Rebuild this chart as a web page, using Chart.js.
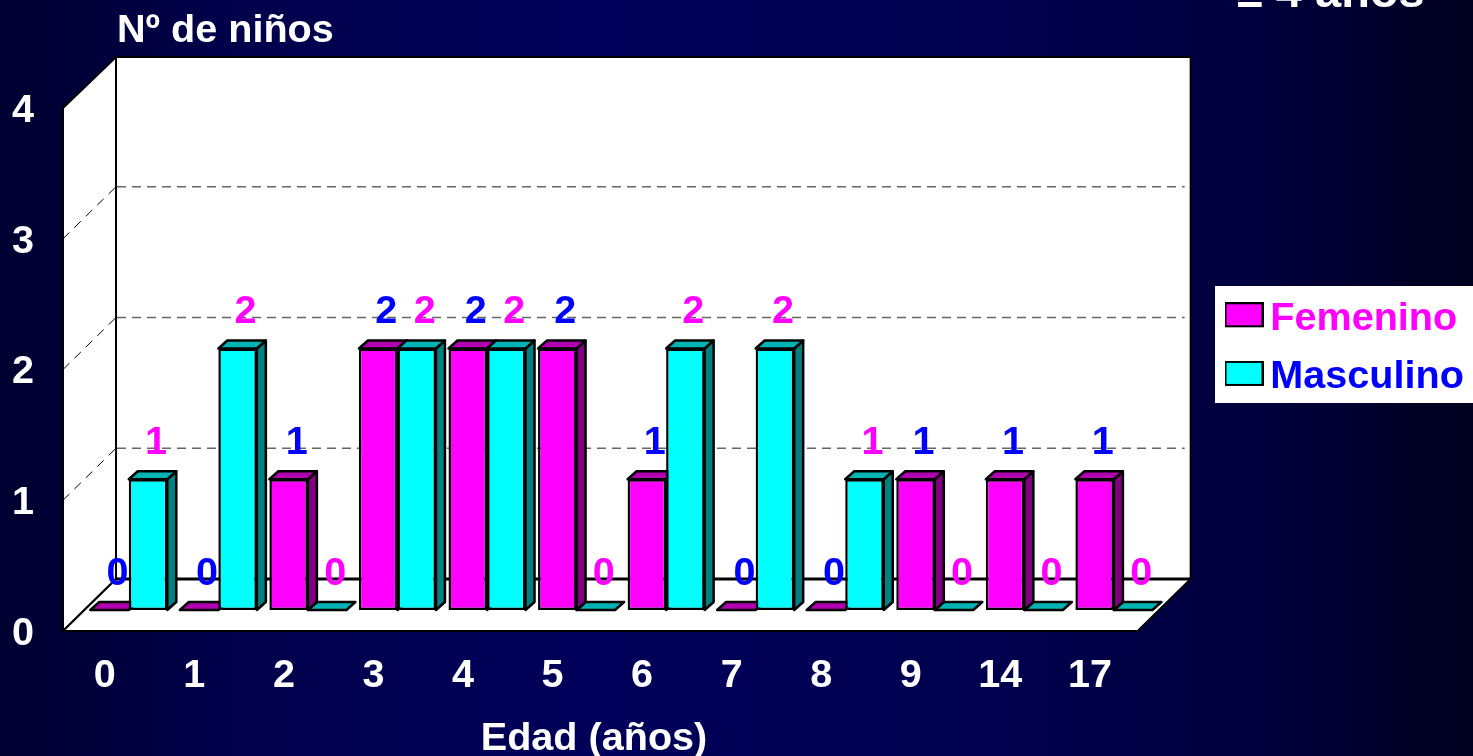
<!DOCTYPE html>
<html>
<head>
<meta charset="utf-8">
<title>Nº de niños por edad</title>
<script src="https://cdn.jsdelivr.net/npm/chart.js"></script>
<style>
    html, body { margin: 0; padding: 0; overflow: hidden; }
    body {
        width: 1473px;
        height: 756px;
        background: linear-gradient(90deg, #000030 0%, #00004a 15%, #00005a 40%, #000050 65%, #00003e 85%, #00001e 100%);
    }
    canvas { display: block; }
</style>
</head>
<body>
<canvas id="chart" width="1473" height="756"></canvas>
<script>
const categories = ["0", "1", "2", "3", "4", "5", "6", "7", "8", "9", "14", "17"];
const femenino = [0, 0, 1, 2, 2, 2, 1, 0, 0, 1, 1, 1];
const masculino = [1, 2, 0, 2, 2, 0, 2, 2, 1, 0, 0, 0];
const yTicks = [0, 1, 2, 3, 4];

const pageTitle = "≥ 4 años";
const yTitle = "Nº de niños";
const xTitle = "Edad (años)";

const MAGENTA = "#ff00ff";
const CYAN = "#00ffff";
const BLUE = "#0000ff";
const barTop = ["#b000b0", "#00b4b4"];
const barSide = ["#800080", "#008080"];
const labelColor = [BLUE, MAGENTA]; // the labels really are swapped in the original

const bigFont = "bold 39.6px 'Liberation Sans'";

// swatch sits in the top of a taller canvas so it lines up a little above the text centre
function swatch(color) {
    const c = document.createElement("canvas");
    c.width = 39;
    c.height = 33;
    const g = c.getContext("2d");
    g.fillStyle = "#000";
    g.fillRect(0, 0, 39, 25);
    g.fillStyle = color;
    g.fillRect(2, 2, 35, 21);
    return c;
}
const swatches = [swatch(MAGENTA), swatch(CYAN)];
const legendText = [MAGENTA, BLUE];

function poly(ctx, pts, fill) {
    ctx.beginPath();
    pts.forEach((p, i) => i ? ctx.lineTo(p[0], p[1]) : ctx.moveTo(p[0], p[1]));
    ctx.closePath();
    if (fill) {
        ctx.fillStyle = fill;
        ctx.fill();
    }
    ctx.stroke();
}

// box drawn behind the plot: back wall, left wall and floor
function drawWalls(chart) {
    const ctx = chart.ctx;
    const { x, y } = chart.scales;
    const l = x.left, r = x.right;
    const y0 = y.getPixelForValue(0), y4 = y.getPixelForValue(4);
    const fx = -21, fy = 21, bx = 32, by = -31;

    ctx.save();
    ctx.strokeStyle = "#000";
    ctx.lineWidth = 2;
    poly(ctx, [[l + bx, y4 + by + 1], [r + bx, y4 + by + 1], [r + bx, y0 + by], [l + bx, y0 + by]], "#fff");
    poly(ctx, [[l + fx, y4 + fy], [l + bx, y4 + by + 1], [l + bx, y0 + by], [l + fx, y0 + fy]], "#fff");
    poly(ctx, [[l + fx, y0 + fy], [l + bx, y0 + by], [r + bx, y0 + by], [r + fx, y0 + fy]], "#fff");

    yTicks.slice(1, -1).forEach(t => {
        const py = y.getPixelForValue(t);
        ctx.lineWidth = 1.5;
        ctx.strokeStyle = "#666";
        ctx.setLineDash([9, 6]);
        ctx.beginPath();
        ctx.moveTo(l + bx + 1, py + by);
        ctx.lineTo(r + bx - 6, py + by);
        ctx.stroke();
        ctx.lineWidth = 1;
        ctx.strokeStyle = "#000";
        ctx.setLineDash([9, 7]);
        ctx.beginPath();
        ctx.moveTo(l + fx, py + fy);
        ctx.lineTo(l + bx, py + by);
        ctx.stroke();
    });
    ctx.setLineDash([]);
    ctx.lineWidth = 3;
    ctx.strokeStyle = "#000";
    ctx.beginPath();
    ctx.moveTo(l + bx, y0 + by);
    ctx.lineTo(r + bx, y0 + by);
    ctx.stroke();
    ctx.restore();
}

const bars3d = {
    id: "bars3d",
    beforeDraw(chart) {
        // white legend panel
        const ctx = chart.ctx;
        ctx.save();
        ctx.fillStyle = "#fff";
        ctx.fillRect(1215, 286, 258, 117);
        ctx.restore();
    },
    afterLayout(chart) {
        const leg = chart.legend;
        const h = leg.bottom - leg.top;
        leg.left = 1218.5;
        leg.right = leg.left + leg.width;
        leg.top = 280;
        leg.bottom = leg.top + h;
    },
    beforeDatasetsDraw(chart) {
        const ctx = chart.ctx;
        const dx = 9, dy = 8;
        drawWalls(chart);

        ctx.save();
        ctx.strokeStyle = "#000";
        ctx.lineWidth = 2.5;
        ctx.lineJoin = "round";
        const metas = chart.data.datasets.map((d, i) => chart.getDatasetMeta(i));

        // flat zero bars first, taller bars go over them
        metas.forEach((meta, s) => {
            meta.data.forEach((el, i) => {
                if (chart.data.datasets[s].data[i] !== 0) return;
                const a = el.x - el.width / 2, b = el.x + el.width / 2;
                poly(ctx, [[a, el.y], [a + dx, el.y - dy], [b + dx, el.y - dy], [b, el.y]], barTop[s]);
            });
        });
        metas.forEach((meta, s) => {
            meta.data.forEach((el, i) => {
                if (chart.data.datasets[s].data[i] === 0) return;
                const a = el.x - el.width / 2, b = el.x + el.width / 2;
                poly(ctx, [[b, el.y], [b + dx, el.y - dy], [b + dx, el.base - dy], [b, el.base]], barSide[s]);
                poly(ctx, [[a, el.y], [a + dx, el.y - dy], [b + dx, el.y - dy], [b, el.y]], barTop[s]);
            });
        });
        ctx.restore();
    },
    afterDatasetsDraw(chart) {
        const ctx = chart.ctx;
        ctx.save();
        ctx.font = bigFont;
        ctx.textAlign = "center";
        ctx.textBaseline = "middle";
        chart.data.datasets.forEach((ds, s) => {
            chart.getDatasetMeta(s).data.forEach((el, i) => {
                ctx.fillStyle = labelColor[s];
                ctx.fillText(String(ds.data[i]), el.x + 8, el.y - 36);
            });
        });

        ctx.fillStyle = "#fff";
        ctx.textBaseline = "alphabetic";
        ctx.textAlign = "left";
        ctx.fillText(yTitle, 117, 42);
        ctx.textAlign = "center";
        ctx.fillText(xTitle, 594, 750);
        ctx.font = "bold 47px 'Liberation Sans'";
        ctx.textAlign = "left";
        ctx.fillText(pageTitle, 1237, 7);
        ctx.restore();
    }
};

const tickFont = { size: 39.6, weight: "bold", family: "'Liberation Sans'" };

new Chart(document.getElementById("chart"), {
    type: "bar",
    data: {
        labels: categories,
        datasets: [
            { label: "Femenino", data: femenino, backgroundColor: MAGENTA },
            { label: "Masculino", data: masculino, backgroundColor: CYAN }
        ]
    },
    options: {
        responsive: false,
        animation: false,
        layout: { padding: { top: 87, right: 59 } },
        datasets: {
            bar: {
                categoryPercentage: 0.86,
                barPercentage: 1,
                borderColor: "#000",
                borderWidth: 2.5,
                borderSkipped: false
            }
        },
        scales: {
            x: {
                grid: { display: false },
                border: { display: false },
                afterFit: s => { s.height = 146; },
                ticks: {
                    color: "#fff",
                    font: tickFont,
                    labelOffset: -24,
                    padding: 34,
                    autoSkip: false,
                    maxRotation: 0
                }
            },
            y: {
                min: 0,
                max: 4,
                grid: { display: false },
                border: { display: false },
                afterFit: s => { s.width = 84; },
                ticks: {
                    stepSize: 1,
                    color: "#fff",
                    font: tickFont,
                    labelOffset: 24,
                    padding: 42
                }
            }
        },
        plugins: {
            tooltip: { enabled: false },
            legend: {
                position: "right",
                align: "start",
                labels: {
                    usePointStyle: true,
                    boxWidth: 13,
                    padding: 19,
                    font: tickFont,
                    generateLabels: chart => chart.data.datasets.map((d, i) => ({
                        text: d.label,
                        fontColor: legendText[i],
                        pointStyle: swatches[i],
                        datasetIndex: i
                    }))
                }
            }
        }
    },
    plugins: [bars3d]
});
</script>
</body>
</html>
